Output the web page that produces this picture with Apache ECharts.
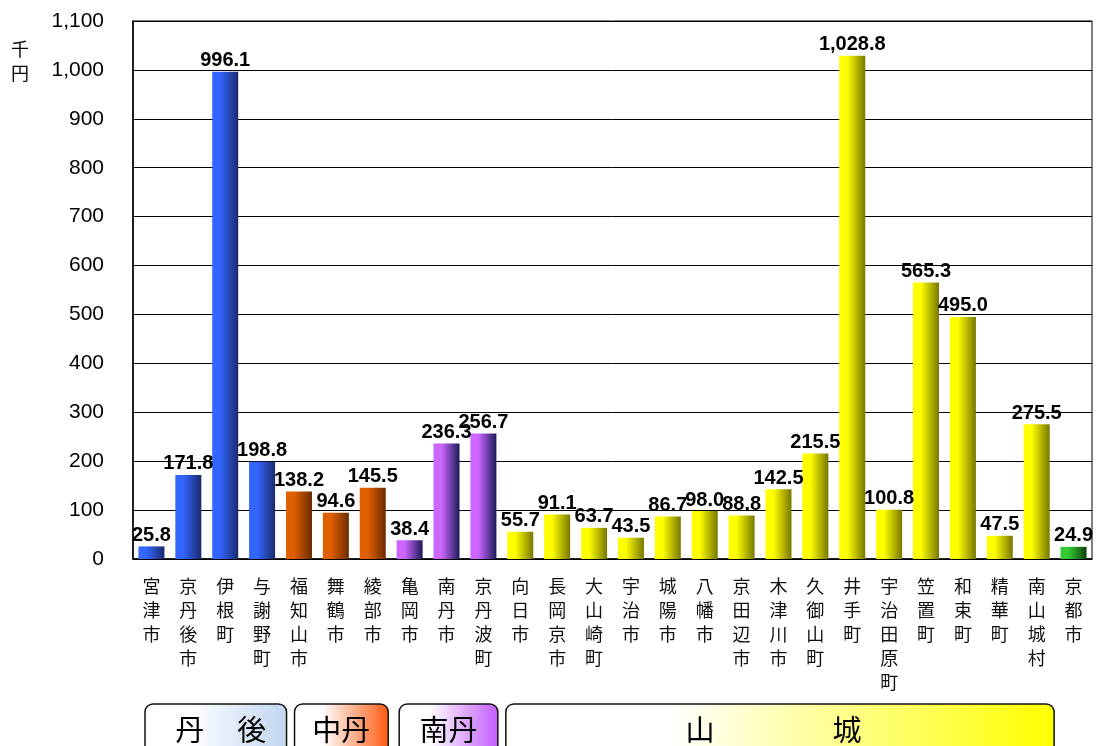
<!DOCTYPE html>
<html>
<head>
<meta charset="utf-8">
<script src="https://cdn.jsdelivr.net/npm/echarts@6/dist/echarts.min.js"></script>
<style>
  html, body { margin: 0; padding: 0; background: #fff; }
  #chart { width: 1096px; height: 746px; }
</style>
</head>
<body>
<div id="chart"></div>
<script>
const cities = ['宮津市', '京丹後市', '伊根町', '与謝野町', '福知山市', '舞鶴市', '綾部市', '亀岡市', '南丹市', '京丹波町',
  '向日市', '長岡京市', '大山崎町', '宇治市', '城陽市', '八幡市', '京田辺市', '木津川市', '久御山町', '井手町',
  '宇治田原町', '笠置町', '和束町', '精華町', '南山城村', '京都市'];
const values = [25.8, 171.8, 996.1, 198.8, 138.2, 94.6, 145.5, 38.4, 236.3, 256.7,
  55.7, 91.1, 63.7, 43.5, 86.7, 98.0, 88.8, 142.5, 215.5, 1028.8,
  100.8, 565.3, 495.0, 47.5, 275.5, 24.9];
const regions = ['丹後', '丹後', '丹後', '丹後', '中丹', '中丹', '中丹', '南丹', '南丹', '南丹',
  '山城', '山城', '山城', '山城', '山城', '山城', '山城', '山城', '山城', '山城',
  '山城', '山城', '山城', '山城', '山城', '京都市'];
const yTicks = [0, 1100, 100]; // min, max, interval

// bar colours per region: [light, dark]
const barColors = {
  '丹後': ['#3366ff', '#1a2a6c'],
  '中丹': ['#e06000', '#6a2c00'],
  '南丹': ['#cc66ff', '#1c1a5a'],
  '山城': ['#ffff00', '#777700'],
  '京都市': ['#33cc33', '#0a3f0a']
};
// bottom region boxes (chars = text pieces with offset from box centre)
const boxes = [
  { from: 0, to: 3, padL: 12, padR: 6, color: '#c2d6f0', chars: [['丹', -26], ['後', 36]] },
  { from: 4, to: 6, padL: 14, padR: -3, color: '#ff5a10', chars: [['中丹', 0]] },
  { from: 7, to: 9, padL: 8, padR: -4, color: '#c25cff', chars: [['南丹', 0]] },
  { from: 10, to: 24, padL: 4, padR: -1, color: '#ffff00', chars: [['山', -80], ['城', 67]] }
];

function fmt(v, dec) {
  let s = v.toFixed(dec);
  let parts = s.split('.');
  parts[0] = parts[0].replace(/\B(?=(\d{3})+(?!\d))/g, ',');
  return parts.join('.');
}

function grad(c) {
  return new echarts.graphic.LinearGradient(0, 0, 1, 0, [
    { offset: 0, color: c[0] },
    { offset: 0.3, color: c[0] },
    { offset: 1, color: c[1] }
  ]);
}

const chart = echarts.init(document.getElementById('chart'));
const option = {
  animation: false,
  grid: { left: 133, right: 4, top: 21, bottom: 187, show: true, borderColor: '#000', borderWidth: 1 },
  xAxis: {
    type: 'category',
    data: cities,
    axisLine: { lineStyle: { color: '#000', width: 1.5 } },
    axisTick: { inside: true, length: 5, lineStyle: { color: '#555' } },
    axisLabel: {
      interval: 0,
      margin: 15,
      fontSize: 18,
      lineHeight: 24,
      color: '#111',
      fontFamily: 'Noto Sans CJK JP',
      formatter: v => v.split('').join('\n')
    }
  },
  yAxis: {
    type: 'value',
    min: yTicks[0],
    max: yTicks[1],
    interval: yTicks[2],
    axisLine: { show: true, lineStyle: { color: '#000', width: 1.5 } },
    axisTick: { show: false },
    splitLine: { lineStyle: { color: '#000', width: 1 } },
    axisLabel: {
      margin: 29,
      fontSize: 21,
      color: '#000',
      fontFamily: 'Liberation Sans',
      formatter: v => fmt(v, 0)
    }
  },
  graphic: [{
    type: 'text',
    left: 11,
    top: 37,
    style: { text: '千\n円', lineHeight: 24, fill: '#000', font: '18px "Noto Sans CJK JP"' }
  }],
  series: [{
    type: 'bar',
    barWidth: 26,
    data: values.map((v, i) => ({
      value: v,
      itemStyle: { color: grad(barColors[regions[i]]) }
    })),
    label: {
      show: true,
      position: 'top',
      distance: 1,
      fontSize: 20,
      fontWeight: 'bold',
      color: '#000',
      fontFamily: 'Liberation Sans',
      formatter: p => fmt(p.value, 1)
    }
  }]
};
chart.setOption(option);

// region boxes under the axis, placed from the category scale
const step = chart.convertToPixel({ xAxisIndex: 0 }, 1) - chart.convertToPixel({ xAxisIndex: 0 }, 0);
const gfx = option.graphic.slice();
boxes.forEach(b => {
  const x0 = chart.convertToPixel({ xAxisIndex: 0 }, b.from) - step / 2 + b.padL;
  const x1 = chart.convertToPixel({ xAxisIndex: 0 }, b.to) + step / 2 + b.padR;
  const cx = (x0 + x1) / 2;
  gfx.push({
    type: 'rect',
    shape: { x: x0, y: 704, width: x1 - x0, height: 60, r: 8 },
    style: {
      fill: new echarts.graphic.LinearGradient(0, 0, 1, 0, [
        { offset: 0, color: '#ffffff' },
        { offset: 0.3, color: '#ffffff' },
        { offset: 1, color: b.color }
      ]),
      stroke: '#111',
      lineWidth: 1.5
    }
  });
  b.chars.forEach(c => {
    gfx.push({
      type: 'text',
      x: cx + c[1],
      y: 730,
      style: {
        text: c[0],
        font: '29px "Noto Sans CJK JP"',
        fill: '#000',
        align: 'center',
        verticalAlign: 'middle'
      }
    });
  });
});
chart.setOption({ graphic: gfx });
</script>
</body>
</html>
